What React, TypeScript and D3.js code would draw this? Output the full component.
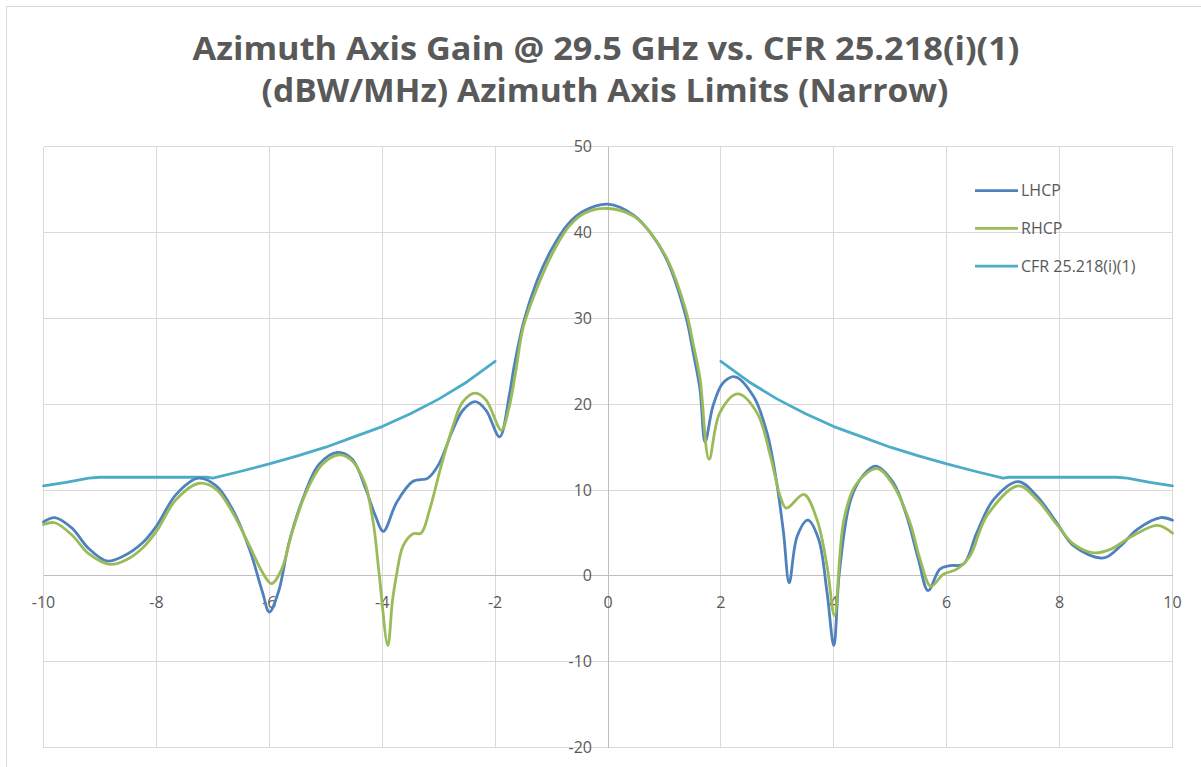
import React from 'react';
import * as d3 from 'd3';

// Azimuth offsets (deg) and gain readings (dBW/MHz)
const lhcpAngles = [
  -10, -9.8, -9.5, -9.2, -8.88, -8.59, -8.24, -8.0, -7.65, -7.26, -6.94, -6.65, -6.35, -6.12, -6.0, -5.84,
  -5.65, -5.41, -5.12, -4.79, -4.53, -4.29, -4.12, -3.98, -3.75, -3.46, -3.19, -2.99, -2.75, -2.57, -2.35,
  -2.16, -1.92, -1.75, -1.66, -1.49, -1.25, -1.02, -0.72, -0.43, 0, 0.46, 0.76, 1.05, 1.38, 1.51, 1.63,
  1.72, 1.86, 2.04, 2.25, 2.58, 2.82, 2.99, 3.11, 3.21, 3.35, 3.54, 3.73, 3.88, 4.0, 4.1, 4.3, 4.53, 4.74,
  5.05, 5.29, 5.5, 5.67, 5.88, 6.06, 6.3, 6.53, 6.83, 7.27, 7.6, 7.95, 8.25, 8.78, 9.08, 9.37, 9.79, 10,
];
const lhcpGain = [
  6.3, 6.8, 5.6, 3.2, 1.75, 2.3, 3.9, 5.8, 9.5, 11.4, 10.5, 7.75, 3.1, -1.9, -4.2, -1.9,
  3.9, 8.9, 13.0, 14.4, 13.6, 10.1, 7.0, 5.2, 8.5, 11.0, 11.4, 13.1, 17.0, 19.3, 20.3,
  19.3, 16.2, 21.0, 24.5, 29.7, 34.5, 37.8, 40.9, 42.5, 43.3, 42.0, 39.9, 36.7, 30.2, 26.0, 21.7,
  15.6, 19.8, 22.5, 23.2, 20.9, 16.6, 10.8, 5.0, -0.8, 4.6, 6.5, 4.3, -1.9, -8.1, 0.5, 8.9, 11.8, 12.8,
  10.9, 7.0, 1.9, -1.7, 0.8, 1.2, 1.4, 5.0, 8.9, 11.0, 9.3, 6.2, 3.5, 2.1, 3.5, 5.4, 6.8, 6.5,
];

const rhcpAngles = [
  -10, -9.8, -9.5, -9.2, -8.82, -8.53, -8.24, -8.0, -7.65, -7.24, -6.94, -6.65, -6.35, -6.12, -5.96, -5.78,
  -5.6, -5.35, -5.06, -4.76, -4.53, -4.29, -4.22, -4.14, -4.05, -3.9, -3.82, -3.75, -3.63, -3.46, -3.31,
  -3.16, -2.96, -2.75, -2.57, -2.35, -2.16, -1.89, -1.75, -1.63, -1.5, -1.21, -0.95, -0.68, -0.4, 0,
  0.46, 0.76, 1.05, 1.38, 1.51, 1.63, 1.79, 1.98, 2.3, 2.64, 2.88, 3.05, 3.16, 3.47, 3.7, 3.88, 4.01,
  4.18, 4.41, 4.77, 5.05, 5.35, 5.53, 5.72, 5.94, 6.18, 6.41, 6.71, 7.27, 7.6, 7.95, 8.25, 8.6, 8.9,
  9.25, 9.73, 10,
];
const rhcpGain = [
  6.0, 6.2, 4.8, 2.6, 1.35, 1.9, 3.3, 5.2, 8.9, 10.8, 10.1, 7.4, 3.5, 0.4, -0.9, 0.8,
  5.0, 9.7, 13.0, 14.1, 13.4, 10.5, 8.5, 5.4, 0.0, -8.1, -3.0, 0.0, 3.5, 4.9, 5.0,
  7.7, 12.7, 17.4, 20.3, 21.3, 20.5, 17.0, 19.7, 24.0, 29.0, 34.3, 38.0, 40.8, 42.3, 42.8,
  41.9, 39.9, 36.9, 30.9, 27.0, 23.0, 13.6, 19.0, 21.2, 19.0, 13.9, 9.3, 7.9, 9.5, 6.6, 1.2, -4.6,
  6.6, 10.8, 12.5, 10.6, 6.2, 1.9, -1.2, 0.2, 0.8, 2.3, 7.0, 10.5, 8.9, 6.0, 3.7, 2.7, 3.1,
  4.5, 5.9, 5.0,
];

// CFR 25.218(i)(1) limit mask, read per side
const cfrLeftAngles = [-10, -9.6, -9.2, -9.0, -8.0, -7.1, -7.0, -6.5, -6.0, -5.5, -5.0, -4.5, -4.0, -3.5, -3.0, -2.5, -2.0];
const cfrLeftLimit = [10.5, 10.9, 11.4, 11.5, 11.5, 11.5, 11.4, 12.2, 13.05, 14.0, 15.0, 16.2, 17.4, 18.9, 20.6, 22.6, 25.0];
const cfrRightAngles = [2.0, 2.5, 3.0, 3.5, 4.0, 4.5, 5.0, 5.5, 6.0, 6.5, 7.0, 7.1, 8.0, 9.0, 9.2, 9.6, 10];
const cfrRightLimit = [25.0, 22.6, 20.6, 18.9, 17.4, 16.2, 15.0, 14.0, 13.05, 12.2, 11.4, 11.5, 11.5, 11.5, 11.4, 10.9, 10.5];

const xTicks = [-10, -8, -6, -4, -2, 0, 2, 4, 6, 8, 10];
const yTicks = [-20, -10, 0, 10, 20, 30, 40, 50];

const seriesNames = ['LHCP', 'RHCP', 'CFR 25.218(i)(1)'];
const seriesColors = ['#4F81BD', '#9BBB59', '#4BACC6'];

const W = 1201;
const H = 767;
const plot = { left: 43.5, right: 1172.5, top: 146.7, bottom: 747.7 };
const FONT = '"Open Sans", "Noto Sans", sans-serif';
const TEXT = '#595959';

export default function App() {
  const x = d3.scaleLinear().domain([-10, 10]).range([plot.left, plot.right]);
  const y = d3.scaleLinear().domain([-20, 50]).range([plot.bottom, plot.top]);

  // Excel "smoothed line" look
  const smooth = d3.line<[number, number]>()
    .x(d => x(d[0]))
    .y(d => y(d[1]))
    .curve(d3.curveCatmullRom.alpha(0.5));
  const straight = d3.line<[number, number]>()
    .x(d => x(d[0]))
    .y(d => y(d[1]));

  const zip = (a: number[], b: number[]) => a.map((v, i) => [v, b[i]] as [number, number]);

  const lhcpPath = smooth(zip(lhcpAngles, lhcpGain)) || '';
  const rhcpPath = smooth(zip(rhcpAngles, rhcpGain)) || '';
  const cfrLeftPath = straight(zip(cfrLeftAngles, cfrLeftLimit)) || '';
  const cfrRightPath = straight(zip(cfrRightAngles, cfrRightLimit)) || '';

  const legendX = 975;
  const legendY = 190.7;
  const legendStep = 37.7;

  return (
    <svg
      width={W}
      height={H}
      style={{ position: 'absolute', left: 0, top: 0, display: 'block', background: '#fff' }}
    >
      <rect x={6.5} y={6.5} width={W + 10} height={H + 10} fill="#fff" stroke="#d9d9d9" strokeWidth={1} />

      {/* title */}
      <text
        x={606}
        y={60}
        textAnchor="middle"
        fontFamily={FONT}
        fontWeight="bold"
        fontSize={32}
        fill={TEXT}
        textLength={827}
        lengthAdjust="spacingAndGlyphs"
      >
        Azimuth Axis Gain @ 29.5 GHz vs. CFR 25.218(i)(1)
      </text>
      <text
        x={605}
        y={102}
        textAnchor="middle"
        fontFamily={FONT}
        fontWeight="bold"
        fontSize={32}
        fill={TEXT}
        textLength={687}
        lengthAdjust="spacingAndGlyphs"
      >
        (dBW/MHz) Azimuth Axis Limits (Narrow)
      </text>

      {/* gridlines */}
      <g stroke="#d9d9d9" strokeWidth={1} shapeRendering="crispEdges">
        {yTicks.map(t => (
          <line key={'gy' + t} x1={plot.left} x2={plot.right} y1={y(t)} y2={y(t)} />
        ))}
        {xTicks.map(t => (
          <line key={'gx' + t} x1={x(t)} x2={x(t)} y1={plot.top} y2={plot.bottom} />
        ))}
      </g>
      {/* axes through origin */}
      <g stroke="#bfbfbf" strokeWidth={1} shapeRendering="crispEdges">
        <line x1={plot.left} x2={plot.right} y1={y(0)} y2={y(0)} />
        <line x1={x(0)} x2={x(0)} y1={plot.top} y2={plot.bottom} />
      </g>

      {/* tick labels */}
      <g fontFamily={FONT} fontSize={16} fill={TEXT}>
        {yTicks.map(t => (
          <text key={'ly' + t} x={x(0) - 16} y={y(t) + 5.5} textAnchor="end">
            {t}
          </text>
        ))}
        {xTicks.map(t => (
          <text key={'lx' + t} x={x(t)} y={y(0) + 32} textAnchor="middle">
            {t}
          </text>
        ))}
      </g>

      {/* series */}
      <g fill="none" strokeWidth={2.8} strokeLinejoin="round" strokeLinecap="round">
        <path d={cfrLeftPath} stroke={seriesColors[2]} />
        <path d={cfrRightPath} stroke={seriesColors[2]} />
        <path d={lhcpPath} stroke={seriesColors[0]} />
        <path d={rhcpPath} stroke={seriesColors[1]} />
      </g>

      {/* legend */}
      <g fontFamily={FONT} fontSize={16} fill={TEXT}>
        {seriesNames.map((name, i) => (
          <g key={name} transform={`translate(${legendX},${legendY + i * legendStep})`}>
            <line x1={0} x2={43} y1={0} y2={0} stroke={seriesColors[i]} strokeWidth={2.8} />
            <text x={46} y={5.5}>
              {name}
            </text>
          </g>
        ))}
      </g>
    </svg>
  );
}
